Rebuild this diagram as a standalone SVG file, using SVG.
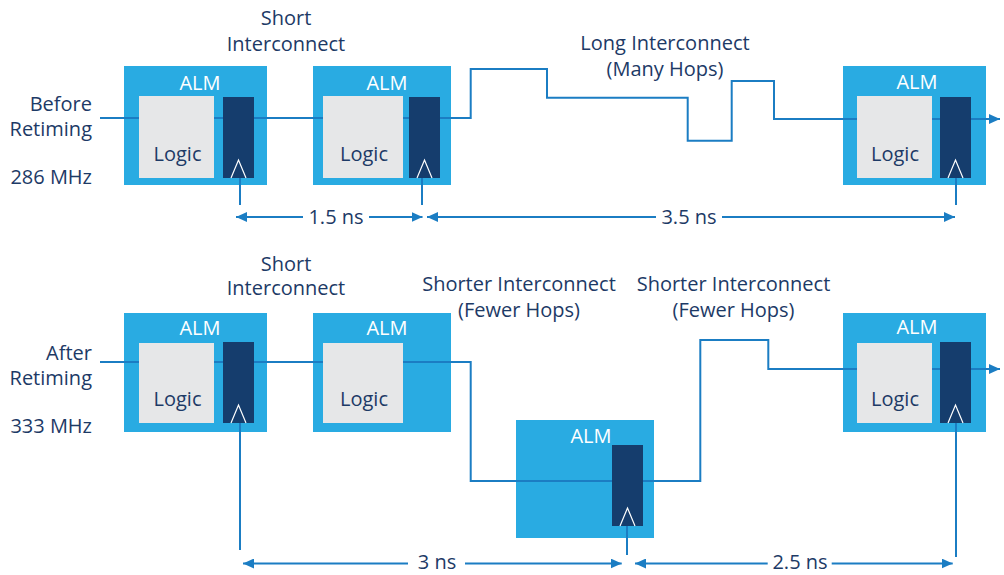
<svg xmlns="http://www.w3.org/2000/svg" width="1004" height="575" viewBox="0 0 1004 575">
  <style>
    .alm { fill: #29abe2; }
    .logic { fill: #e6e7e8; }
    .reg { fill: #153d6d; }
    .clk { fill: none; stroke: #ffffff; stroke-width: 1.2; }
    .wire { fill: none; stroke: #1b7dc3; stroke-width: 2; }
    .dim { fill: none; stroke: #1b7dc3; stroke-width: 2; marker-end: url(#arrow); }
    text { font-family: "Open Sans", "Noto Sans", "Liberation Sans", sans-serif; font-size: 20px; fill: #1d3a66; }
    .white { fill: #ffffff; text-anchor: middle; }
    .mid { text-anchor: middle; }
    .end { text-anchor: end; }
  </style>
  <defs>
    <marker id="arrow" markerUnits="userSpaceOnUse" markerWidth="11" markerHeight="10" refX="11" refY="5" orient="auto" viewBox="0 0 11 10">
      <path d="M0,0 L11,5 L0,10 z" fill="#1b7dc3"/>
    </marker>
  </defs>
  <rect width="1004" height="575" fill="#ffffff"/>

  <!-- ALM frames -->
  <g id="alm-frames">
    <g id="top-alm1-frame"><rect class="alm" x="124" y="66" width="143" height="119"/></g>
    <g id="top-alm2-frame"><rect class="alm" x="313" y="66" width="138" height="119"/></g>
    <g id="top-alm3-frame"><rect class="alm" x="843" y="66" width="143" height="119"/></g>
    <g id="bot-alm1-frame"><rect class="alm" x="124" y="313" width="143" height="119"/></g>
    <g id="bot-alm2-frame"><rect class="alm" x="313" y="313" width="138" height="119"/></g>
    <g id="bot-alm-mid-frame"><rect class="alm" x="516" y="420" width="138" height="118"/></g>
    <g id="bot-alm3-frame"><rect class="alm" x="843" y="313" width="143" height="119"/></g>
  </g>

  <!-- connectors -->
  <g id="connectors">
    <path class="wire" d="M100,118 H470.7 V69 H547 V97.7 H687.7 V140.7 H731.7 V81 H774 V119 H1000" style="marker-end:url(#arrow)"/>
    <line class="wire" x1="240" y1="178" x2="240" y2="205"/>
    <line class="wire" x1="422" y1="178" x2="422" y2="205"/>
    <line class="wire" x1="956" y1="178" x2="956" y2="205"/>
    <line class="dim" x1="303" y1="217" x2="236" y2="217"/>
    <line class="dim" x1="369" y1="217" x2="422.5" y2="217"/>
    <line class="dim" x1="656" y1="217" x2="427" y2="217"/>
    <line class="dim" x1="722" y1="217" x2="955" y2="217"/>

    <path class="wire" d="M100,362 H470.7 V481 H700.3 V340 H768.3 V369 H1000" style="marker-end:url(#arrow)"/>
    <line class="wire" x1="240" y1="423" x2="240" y2="550"/>
    <line class="wire" x1="627" y1="526" x2="627" y2="555"/>
    <line class="wire" x1="956" y1="423" x2="956" y2="557"/>
    <line class="dim" x1="408" y1="563.5" x2="243" y2="563.5"/>
    <line class="dim" x1="465" y1="563.5" x2="621.7" y2="563.5"/>
    <line class="dim" x1="767.7" y1="563.5" x2="635" y2="563.5"/>
    <line class="dim" x1="831.7" y1="563.5" x2="952.7" y2="563.5"/>
  </g>

  <!-- ALM internals and labels -->
  <g id="top-alm1">
    <text class="white" x="200" y="90">ALM</text>
    <rect class="logic" x="139" y="96" width="75" height="82"/>
    <text class="mid" x="177.5" y="160.7">Logic</text>
    <rect class="reg" x="223" y="97" width="31" height="81"/>
    <polyline class="clk" points="231,178 238.5,160 246,178"/>
  </g>
  <g id="top-alm2">
    <text class="white" x="387" y="90">ALM</text>
    <rect class="logic" x="323" y="96" width="80" height="82"/>
    <text class="mid" x="364" y="160.7">Logic</text>
    <rect class="reg" x="409" y="97" width="31" height="81"/>
    <polyline class="clk" points="417,178 424.5,160 432,178"/>
  </g>
  <g id="top-alm3">
    <text class="white" x="917" y="89">ALM</text>
    <rect class="logic" x="857" y="96" width="75" height="82"/>
    <text class="mid" x="895" y="160.7">Logic</text>
    <rect class="reg" x="940" y="97" width="31" height="81"/>
    <polyline class="clk" points="948,178 955.5,160 963,178"/>
  </g>
  <g id="bot-alm1">
    <text class="white" x="200" y="335">ALM</text>
    <rect class="logic" x="139" y="343" width="75" height="80"/>
    <text class="mid" x="177.5" y="405.7">Logic</text>
    <rect class="reg" x="223" y="342" width="31" height="81"/>
    <polyline class="clk" points="231,423 238.5,405 246,423"/>
  </g>
  <g id="bot-alm2">
    <text class="white" x="387" y="335">ALM</text>
    <rect class="logic" x="323" y="343" width="80" height="80"/>
    <text class="mid" x="364" y="405.7">Logic</text>
  </g>
  <g id="bot-alm-mid">
    <text class="white" x="591" y="442.7">ALM</text>
    <rect class="reg" x="612" y="445" width="31" height="81"/>
    <polyline class="clk" points="620,526 627.5,508 635,526"/>
  </g>
  <g id="bot-alm3">
    <text class="white" x="917" y="334.3">ALM</text>
    <rect class="logic" x="857" y="343" width="75" height="80"/>
    <text class="mid" x="895" y="405.7">Logic</text>
    <rect class="reg" x="940" y="342" width="31" height="81"/>
    <polyline class="clk" points="948,423 955.5,405 963,423"/>
  </g>

  <!-- annotations -->
  <g id="labels">
    <text class="mid" x="286" y="25">Short<tspan x="286" y="51">Interconnect</tspan></text>
    <text class="mid" x="665" y="50">Long Interconnect<tspan x="665" y="76">(Many Hops)</tspan></text>
    <text class="end" x="92" y="110.7">Before<tspan x="92" y="136">Retiming</tspan></text>
    <text class="end" x="92" y="184">286 MHz</text>
    <text class="mid" x="336" y="224">1.5 ns</text>
    <text class="mid" x="689" y="224">3.5 ns</text>

    <text class="mid" x="286" y="270.7">Short<tspan x="286" y="295">Interconnect</tspan></text>
    <text class="mid" x="519" y="291">Shorter Interconnect<tspan x="519" y="317">(Fewer Hops)</tspan></text>
    <text class="mid" x="733.5" y="291">Shorter Interconnect<tspan x="733.5" y="317">(Fewer Hops)</tspan></text>
    <text class="end" x="92" y="360">After<tspan x="92" y="385">Retiming</tspan></text>
    <text class="end" x="92" y="433.3">333 MHz</text>
    <text class="mid" x="437" y="569">3 ns</text>
    <text class="mid" x="800" y="569">2.5 ns</text>
  </g>
</svg>
